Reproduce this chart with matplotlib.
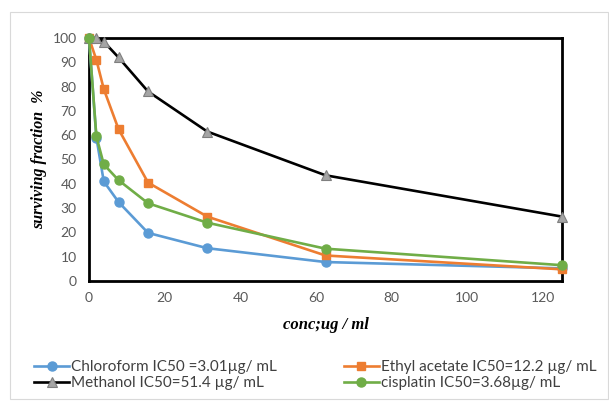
import matplotlib
matplotlib.use("Agg")
import matplotlib.pyplot as plt
from matplotlib.patches import Rectangle

conc = [0, 1.95, 3.9, 7.8, 15.6, 31.25, 62.5, 125]
chloroform = [100, 59, 41, 32.5, 19.8, 13.5, 7.8, 5.2]
ethyl_acetate = [100, 91, 79, 62.5, 40.5, 26.5, 10.5, 4.8]
methanol = [100, 100, 98.5, 92, 78, 61.5, 43.5, 26.5]
cisplatin = [100, 59.5, 48, 41.5, 32, 24, 13.3, 6.5]

labels = ["Chloroform IC50 =3.01µg/ mL",
          "Ethyl acetate IC50=12.2 µg/ mL",
          "Methanol IC50=51.4 µg/ mL",
          "cisplatin IC50=3.68µg/ mL"]
xticks = [0, 20, 40, 60, 80, 100, 120]
yticks = [0, 10, 20, 30, 40, 50, 60, 70, 80, 90, 100]

plt.rcParams['font.family'] = ['Lato', 'DejaVu Sans']

W, H = 609, 401
fig = plt.figure(figsize=(W / 100, H / 100), dpi=100)
fig.patches.append(Rectangle((10 / W, 1 - 399 / H), (608 - 10) / W, (399 - 12) / H,
                             transform=fig.transFigure, fill=False,
                             edgecolor='#D9D9D9', linewidth=0.8))

ax = fig.add_axes([89 / W, 1 - 281 / H, (562 - 89) / W, (281 - 38) / H])

lw = 1.9
common = dict(lw=lw, clip_on=False)
ax.plot(conc, chloroform, color='#5B9BD5', marker='o', ms=6.5,
        mfc='#5B9BD5', mec='#5B9BD5', label=labels[0], zorder=3, **common)
ax.plot(conc, ethyl_acetate, color='#ED7D31', marker='s', ms=6,
        mfc='#ED7D31', mec='#ED7D31', label=labels[1], zorder=3, **common)
ax.plot(conc, methanol, color='black', marker='^', ms=7,
        mfc='#A5A5A5', mec='#7F7F7F', mew=0.8, label=labels[2], zorder=3, **common)
ax.plot(conc, cisplatin, color='#70AD47', marker='o', ms=6.5,
        mfc='#70AD47', mec='#70AD47', label=labels[3], zorder=4, **common)

ax.set_xlim(0, 125)
ax.set_ylim(0, 100)
ax.set_xticks(xticks)
ax.set_yticks(yticks)
for s in ax.spines.values():
    s.set_linewidth(2.0)
    s.set_color('black')
    s.set_zorder(2)
ax.tick_params(length=0, labelsize=10, labelcolor='#595959', pad=8)
ax.tick_params(axis='y', pad=9)

ax.set_xlabel("conc;ug / ml", family='Liberation Serif', style='italic',
              weight='bold', fontsize=12, labelpad=9)
ax.set_ylabel("surviving fraction  %", family='Liberation Serif', style='italic',
              weight='bold', fontsize=11.5, labelpad=4)

handles, labs = ax.get_legend_handles_labels()
order = [0, 2, 1, 3]
leg = fig.legend([handles[i] for i in order], [labs[i] for i in order],
                 ncol=2, loc='center left', bbox_to_anchor=(28 / W, 1 - 375 / H),
                 frameon=False, fontsize=11, handlelength=2.3, handletextpad=0.1,
                 columnspacing=4.4, labelspacing=0.15, borderaxespad=0)
for t in leg.get_texts():
    t.set_color('#404040')

fig.savefig("out.png", dpi=100)
